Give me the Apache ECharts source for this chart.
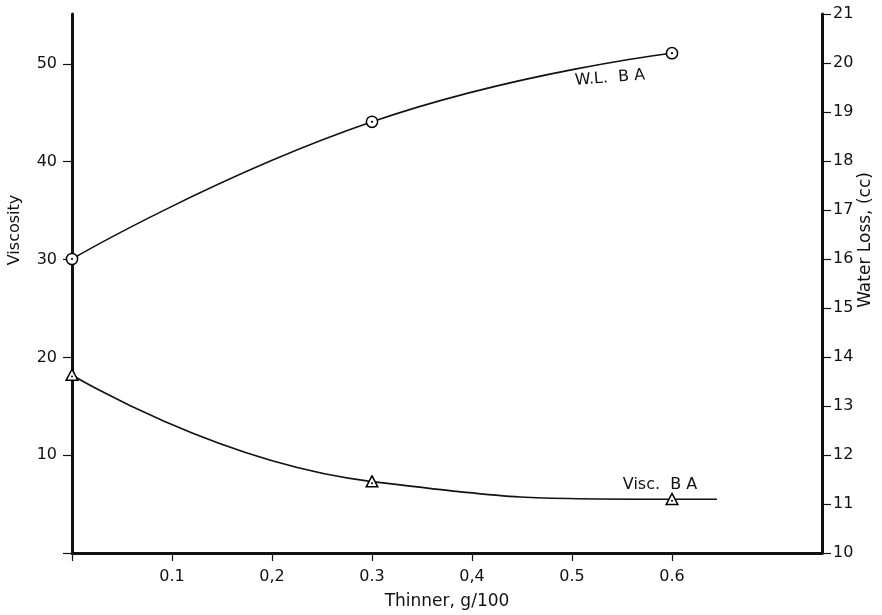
<!DOCTYPE html>
<html><head><meta charset="utf-8">
<script src="https://cdn.jsdelivr.net/npm/echarts@6/dist/echarts.min.js"></script>
<style>html,body{margin:0;padding:0;background:#fff}#c{width:882px;height:615px}</style>
</head><body><div id="c"></div>
<script>
// ---- data ----
const wlThinner = [0, 0.3, 0.6];
const waterLoss = [16.0, 18.8, 20.2];
const viscThinner = [0, 0.3, 0.6, 0.645];
const viscosity = [18.2, 7.3, 5.5, 5.5];
const viscMarked = [true, true, true, false];
const xTickValues = [0, 0.1, 0.2, 0.3, 0.4, 0.5, 0.6];
const xTickLabels = ['', '0.1', '0,2', '0.3', '0,4', '0.5', '0.6'];
const leftTickValues = [0, 10, 20, 30, 40, 50];
const leftTickLabels = ['', '10', '20', '30', '40', '50'];
const rightTickValues = [10, 11, 12, 13, 14, 15, 16, 17, 18, 19, 20, 21];
const rightTickLabels = ['10', '11', '12', '13', '14', '15', '16', '17', '18', '19', '20', '21'];

const FONT = 'DejaVu Sans';
const INK = '#111';

function lookup(vals, labels, v) {
  const i = vals.findIndex(t => Math.abs(t - v) < 1e-9);
  return i < 0 ? '' : labels[i];
}
const circleSvg = 'image://data:image/svg+xml;utf8,' + encodeURIComponent(
  '<svg xmlns="http://www.w3.org/2000/svg" width="14" height="14" viewBox="0 0 14 14">' +
  '<circle cx="7" cy="7" r="5.6" fill="white" stroke="black" stroke-width="1.5"/>' +
  '<circle cx="7" cy="7" r="1.1" fill="black"/></svg>');
const triSvg = 'image://data:image/svg+xml;utf8,' + encodeURIComponent(
  '<svg xmlns="http://www.w3.org/2000/svg" width="14" height="14" viewBox="0 0 14 14">' +
  '<polygon points="7,1.2 12.8,12.2 1.2,12.2" fill="white" stroke="black" stroke-width="1.5"/>' +
  '<circle cx="7" cy="8.6" r="1" fill="black"/></svg>');

const chart = echarts.init(document.getElementById('c'), null, {renderer: 'canvas'});
chart.setOption({
  backgroundColor: '#fff',
  animation: false,
  textStyle: {fontFamily: FONT, color: INK},
  grid: {left: 72, right: 60, top: 14, bottom: 61},
  xAxis: {
    type: 'value', min: 0, max: 0.75,
    axisLine: {show: true, onZero: false, lineStyle: {color: INK, width: 3}},
    axisTick: {show: true, customValues: xTickValues, length: 8, lineStyle: {color: INK, width: 1.2}},
    axisLabel: {customValues: xTickValues.slice(1), formatter: v => lookup(xTickValues, xTickLabels, v),
      color: INK, fontSize: 16, fontFamily: FONT, margin: 16},
    splitLine: {show: false},
    name: 'Thinner, g/100', nameLocation: 'middle', nameGap: 40,
    nameTextStyle: {color: INK, fontSize: 17, fontFamily: FONT}
  },
  yAxis: [{
    type: 'value', position: 'left', min: 0, max: 55.1,
    axisLine: {show: true, onZero: false, lineStyle: {color: INK, width: 3}},
    axisTick: {show: true, customValues: leftTickValues, length: 9, lineStyle: {color: INK, width: 1.2}},
    axisLabel: {customValues: leftTickValues.slice(1), formatter: v => lookup(leftTickValues, leftTickLabels, v),
      color: INK, fontSize: 16, fontFamily: FONT, margin: 15},
    splitLine: {show: false}
  }, {
    type: 'value', position: 'right', min: 10, max: 21, interval: 1,
    axisLine: {show: true, onZero: false, lineStyle: {color: INK, width: 3}},
    axisTick: {show: true, customValues: rightTickValues, length: 9, lineStyle: {color: INK, width: 1.2}},
    axisLabel: {customValues: rightTickValues, formatter: v => lookup(rightTickValues, rightTickLabels, v),
      color: INK, fontSize: 16, fontFamily: FONT, margin: 11},
    splitLine: {show: false}
  }],
  graphic: [
    {type: 'text', x: 15, y: 230, rotation: Math.PI / 2,
      style: {text: 'Viscosity', font: '16px "DejaVu Sans"', fill: INK, align: 'center', verticalAlign: 'middle'}},
    {type: 'text', x: 866, y: 240, rotation: Math.PI / 2,
      style: {text: 'Water Loss, (cc)', font: '17px "DejaVu Sans"', fill: INK, align: 'center', verticalAlign: 'middle'}},
    {type: 'text', x: 610, y: 78, rotation: 0.08,
      style: {text: 'W.L.  B A', font: '16px "DejaVu Sans"', fill: INK, align: 'center', verticalAlign: 'middle'}},
    {type: 'text', x: 660, y: 485,
      style: {text: 'Visc.  B A', font: '16px "DejaVu Sans"', fill: INK, align: 'center', verticalAlign: 'middle'}}
  ],
  series: [{
    name: 'W.L. BA', type: 'line', yAxisIndex: 1, smooth: 0.5,
    data: wlThinner.map((x, i) => [x, waterLoss[i]]),
    symbol: circleSvg, symbolSize: 14, showAllSymbol: true,
    lineStyle: {color: INK, width: 1.6}, itemStyle: {color: INK}, z: 3
  }, {
    name: 'Visc. BA', type: 'line', yAxisIndex: 0, smooth: 0.5,
    data: viscThinner.map((x, i) => viscMarked[i] ? [x, viscosity[i]] : {value: [x, viscosity[i]], symbol: 'none'}),
    symbol: triSvg, symbolSize: 14, showAllSymbol: true,
    lineStyle: {color: INK, width: 1.6}, itemStyle: {color: INK}, z: 3
  }]
});
</script></body></html>
